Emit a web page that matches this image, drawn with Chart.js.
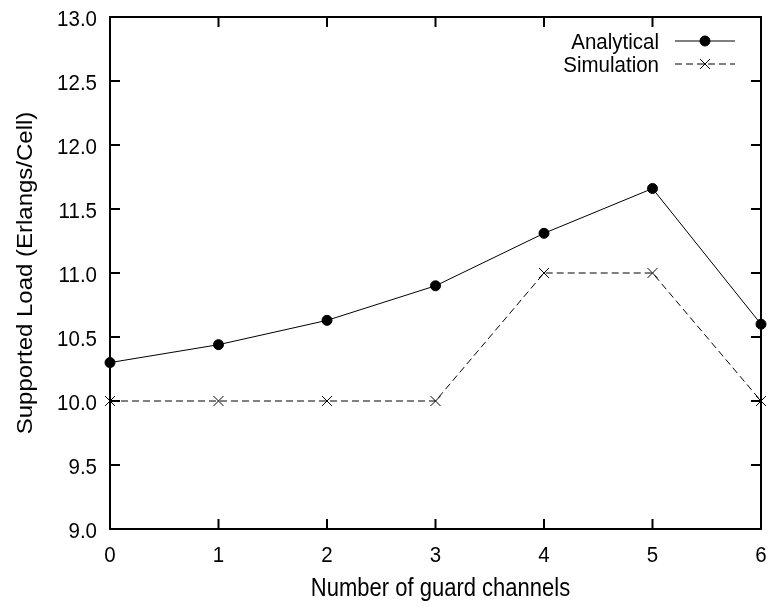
<!DOCTYPE html>
<html lang="en">

<head>
    <meta charset="UTF-8">
    <title>Supported Load vs guard channels</title>
    <style>
        html, body {
            margin: 0;
            padding: 0;
            background: #fff;
        }

        canvas {
            display: block;
        }
    </style>
</head>

<body>
    <canvas id="chart" width="769" height="607"></canvas>

    <script src="https://cdn.jsdelivr.net/npm/chart.js"></script>
    <script>
        // Werte
        var guardChannels = [0, 1, 2, 3, 4, 5, 6];
        var analytical = [10.30, 10.44, 10.63, 10.90, 11.31, 11.66, 10.60];
        var simulation = [10.0, 10.0, 10.0, 10.0, 11.0, 11.0, 10.0];
        var yTicks = [9.0, 9.5, 10.0, 10.5, 11.0, 11.5, 12.0, 12.5, 13.0];
        var seriesNames = ['Analytical', 'Simulation'];
        var xTitle = 'Number of guard channels';
        var yTitle = 'Supported Load (Erlangs/Cell)';

        var FAMILY = '"Liberation Sans", Arial, sans-serif';
        var TICK_SIZE = 20.5;
        var TITLE_SIZE = 22;
        var STRETCH = 1.12;   // Schrift im Original etwas hochgezogen

        function toPoints(values) {
            return guardChannels.map(function (x, i) { return { x: x, y: values[i] }; });
        }

        // Text mit vertikaler Streckung zeichnen
        function tallText(ctx, text, x, y, size, align, stretch, rotate) {
            ctx.save();
            ctx.font = size + 'px ' + FAMILY;
            ctx.fillStyle = '#000';
            ctx.textAlign = align;
            ctx.textBaseline = 'alphabetic';
            ctx.translate(x, y);
            if (rotate) {
                ctx.rotate(-Math.PI / 2);
                ctx.scale(stretch, 1);
            } else {
                ctx.scale(1, stretch);
            }
            ctx.fillText(text, 0, 0);
            ctx.restore();
        }

        // Rahmen mit nach innen zeigenden Ticks (wie gnuplot)
        var framePlugin = {
            id: 'frame',
            beforeDatasetsDraw: function (chart) {
                var ctx = chart.ctx;
                var a = chart.chartArea;
                var xs = chart.scales.x, ys = chart.scales.y;
                var tl = 10;
                ctx.save();
                ctx.strokeStyle = '#000';
                ctx.lineWidth = 2;
                ctx.strokeRect(a.left, a.top, a.right - a.left, a.bottom - a.top);
                ctx.beginPath();
                guardChannels.forEach(function (v) {
                    var px = xs.getPixelForValue(v);
                    ctx.moveTo(px, a.bottom); ctx.lineTo(px, a.bottom - tl);
                    ctx.moveTo(px, a.top); ctx.lineTo(px, a.top + tl);
                });
                yTicks.forEach(function (v) {
                    var py = ys.getPixelForValue(v);
                    ctx.moveTo(a.left, py); ctx.lineTo(a.left + tl, py);
                    ctx.moveTo(a.right, py); ctx.lineTo(a.right - tl, py);
                });
                ctx.stroke();
                ctx.restore();

                // Achsenbeschriftung
                guardChannels.forEach(function (v) {
                    tallText(ctx, String(v), xs.getPixelForValue(v), a.bottom + 33, TICK_SIZE, 'center', STRETCH);
                });
                yTicks.forEach(function (v) {
                    tallText(ctx, v.toFixed(1), a.left - 13, ys.getPixelForValue(v) + 8.5, TICK_SIZE, 'right', STRETCH);
                });
                tallText(ctx, xTitle, (a.left + a.right) / 2 + 5, a.bottom + 67, TITLE_SIZE, 'center', 1.2);
                tallText(ctx, yTitle, 32, (a.top + a.bottom) / 2, TITLE_SIZE, 'center', 1.09, true);
            }
        };

        // Legende oben rechts, Text rechtsbündig + Linienprobe
        var keyPlugin = {
            id: 'key',
            afterDraw: function (chart) {
                var ctx = chart.ctx;
                var a = chart.chartArea;
                var textRight = a.right - 102;
                var lineStart = a.right - 86, lineEnd = a.right - 26;
                chart.data.datasets.forEach(function (ds, i) {
                    var y = a.top + 24 + i * 23;
                    var mx = (lineStart + lineEnd) / 2;
                    tallText(ctx, ds.label, textRight, y + 7.5, TICK_SIZE, 'right', STRETCH);
                    ctx.save();
                    ctx.strokeStyle = ds.borderColor;
                    ctx.lineWidth = ds.borderWidth;
                    ctx.setLineDash(ds.borderDash || []);
                    ctx.beginPath();
                    ctx.moveTo(lineStart, y);
                    ctx.lineTo(lineEnd, y);
                    ctx.stroke();
                    ctx.setLineDash([]);
                    ctx.fillStyle = ds.pointBackgroundColor;
                    ctx.strokeStyle = ds.pointBorderColor;
                    ctx.lineWidth = ds.pointBorderWidth;
                    Chart.helpers.drawPoint(ctx, {
                        pointStyle: ds.pointStyle,
                        radius: ds.pointRadius,
                        borderWidth: ds.pointBorderWidth
                    }, mx, y);
                    ctx.restore();
                });
            }
        };

        var ctx = document.getElementById('chart').getContext('2d');
        var chart = new Chart(ctx, {
            type: 'line',
            data: {
                datasets: [{
                    label: seriesNames[0],
                    data: toPoints(analytical),
                    borderColor: '#000',
                    borderWidth: 1,
                    pointStyle: 'circle',
                    pointRadius: 5,
                    pointBorderWidth: 1,
                    pointBackgroundColor: '#000',
                    pointBorderColor: '#000',
                    clip: false
                }, {
                    label: seriesNames[1],
                    data: toPoints(simulation),
                    borderColor: '#000',
                    borderWidth: 1,
                    borderDash: [7, 4],
                    pointStyle: 'crossRot',
                    pointRadius: 7,
                    pointBorderWidth: 1,
                    pointBackgroundColor: '#000',
                    pointBorderColor: '#000',
                    clip: false
                }]
            },
            options: {
                responsive: false,
                animation: false,
                devicePixelRatio: 1,
                layout: { padding: { top: 17, right: 8, left: 0, bottom: 0 } },
                plugins: {
                    legend: { display: false },
                    tooltip: { enabled: false }
                },
                scales: {
                    x: {
                        type: 'linear',
                        min: 0,
                        max: 6,
                        grid: { display: false, drawTicks: false, tickLength: 0 },
                        border: { display: false },
                        afterFit: function (s) { s.height = 78; },
                        ticks: { display: false, stepSize: 1 }
                    },
                    y: {
                        min: 9,
                        max: 13,
                        grid: { display: false, drawTicks: false, tickLength: 0 },
                        border: { display: false },
                        afterFit: function (s) { s.width = 110; },
                        afterBuildTicks: function (s) {
                            s.ticks = yTicks.map(function (v) { return { value: v }; });
                        },
                        ticks: { display: false }
                    }
                }
            },
            plugins: [framePlugin, keyPlugin]
        });
    </script>
</body>

</html>
